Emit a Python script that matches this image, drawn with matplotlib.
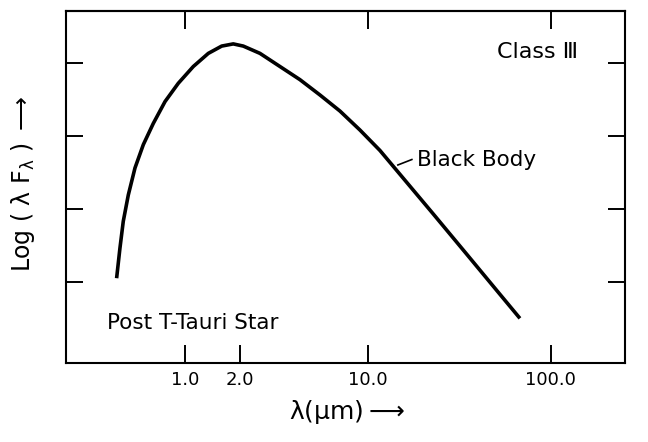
import numpy as np
import matplotlib.pyplot as plt
from matplotlib.ticker import FixedLocator, NullLocator, NullFormatter

# Black body SED of a post T-Tauri star (Class III)
wavelength_um = [0.423, 0.441, 0.460, 0.490, 0.533, 0.592, 0.671, 0.778,
                 0.919, 1.110, 1.341, 1.587, 1.836, 2.083, 2.570, 3.305,
                 4.250, 5.467, 7.031, 9.043, 11.63, 15.59, 22.75, 34.63,
                 52.63, 67.71]
log_lambda_f = [1.05, 1.46, 1.83, 2.19, 2.56, 2.88, 3.17, 3.47,
                3.72, 3.95, 4.13, 4.23, 4.26, 4.23, 4.13, 3.95,
                3.77, 3.56, 3.34, 3.08, 2.80, 2.42, 1.93, 1.38,
                0.83, 0.50]

x_ticks = [1.0, 2.0, 10.0, 100.0]
x_tick_labels = ["1.0", "2.0", "10.0", "100.0"]
top_ticks = [1.0, 10.0, 100.0]
y_ticks = [1, 2, 3, 4]

fig = plt.figure(figsize=(6.48, 4.42), dpi=100)
ax = fig.add_axes([0.102, 0.179, 0.862, 0.796])

ax.plot(wavelength_um, log_lambda_f, color="black", linewidth=2.6,
        solid_capstyle="butt", solid_joinstyle="round")

ax.set_xscale("log")
ax.set_xlim(0.224, 253)
ax.set_ylim(-0.11, 4.71)

ax.xaxis.set_major_locator(FixedLocator(x_ticks))
ax.xaxis.set_minor_locator(NullLocator())
ax.set_xticklabels(x_tick_labels, fontsize=13)
ax.set_yticks(y_ticks)
ax.yaxis.set_major_formatter(NullFormatter())

ax.tick_params(axis="x", direction="in", length=13, width=1.4, pad=6)
ax.tick_params(axis="y", direction="in", length=12, width=1.4, right=True)

top = ax.secondary_xaxis("top")
top.xaxis.set_major_locator(FixedLocator(top_ticks))
top.xaxis.set_minor_locator(NullLocator())
top.xaxis.set_major_formatter(NullFormatter())
top.tick_params(direction="in", length=13, width=1.4)
top.spines["top"].set_linewidth(1.5)

for s in ax.spines.values():
    s.set_linewidth(1.5)

# annotations
ax.text(0.771, 0.884, "Class Ⅲ", transform=ax.transAxes, fontsize=16,
        ha="left", va="center")
ax.text(0.628, 0.577, "Black Body", transform=ax.transAxes, fontsize=15.5,
        ha="left", va="center")
ax.plot([0.594, 0.619], [0.5625, 0.578], transform=ax.transAxes,
        color="black", linewidth=1.2)
ax.text(0.073, 0.114, "Post T-Tauri Star", transform=ax.transAxes,
        fontsize=15.5, ha="left", va="center")

fig.text(0.535, 0.068, r"λ(μm)$\longrightarrow$", fontsize=18,
         ha="center", va="center")
fig.text(0.036, 0.585, r"Log ( λ F$_{\mathrm{λ}}$ ) $\longrightarrow$",
         fontsize=17, ha="center", va="center", rotation=90)

fig.savefig("out.png", dpi=100)
